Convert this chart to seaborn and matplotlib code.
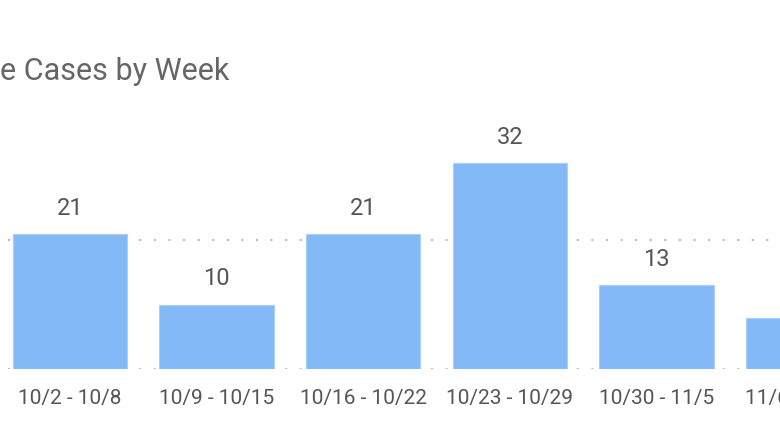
import numpy as np
import pandas as pd
import matplotlib
matplotlib.use("Agg")
import matplotlib.pyplot as plt
import seaborn as sns

# weekly case counts (chart is cropped on both sides)
weeks = ["10/2 - 10/8", "10/9 - 10/15", "10/16 - 10/22",
         "10/23 - 10/29", "10/30 - 11/5", "11/6 - 11/12"]
cases = [21, 10, 21, 32, 13, 8]
title = "e Cases by Week"

bar_color = "#84B9F8"
text_color = "#555555"


def main():
    sns.set_theme(style="white")
    plt.rcParams["font.family"] = ["Roboto", "DejaVu Sans"]

    data = pd.DataFrame({"week": weeks, "cases": cases})

    fig = plt.figure(figsize=(7.8, 4.39), dpi=100)
    W, H = 780, 439
    # axes runs past the right edge so the last bar is cut like the original
    left_px, right_px, bottom_px, top_px = 8, 900, 370, 145
    ax = fig.add_axes([left_px / W, 1 - bottom_px / H,
                       (right_px - left_px) / W, (bottom_px - top_px) / H])

    sns.barplot(data=data, x="week", y="cases", color=bar_color,
                width=0.78, saturation=1, edgecolor="#A9CEFA",
                linewidth=0.8, ax=ax, zorder=3)

    step = 146.6
    ax.set_xlim((left_px - 70) / step, (right_px - 70) / step)
    ax.set_ylim(0, 35)
    ax.set_yticks([0, 20])
    ax.yaxis.grid(True, color="#BBBBBB", linestyle=(0, (1, 6)), linewidth=1.5,
                  zorder=0)
    ax.set_axisbelow(True)
    ax.tick_params(axis="y", left=False, labelleft=False)
    ax.tick_params(axis="x", length=0, pad=14, labelsize=15,
                   labelcolor=text_color)
    ax.set_xlabel("")
    ax.set_ylabel("")
    sns.despine(ax=ax, left=True, bottom=True)

    # the last bar's value label falls outside the cropped picture
    shown = [str(v) for v in cases[:-1]] + [""]
    ax.bar_label(ax.containers[0], labels=shown, padding=11, fontsize=17,
                 color=text_color)

    fig.text(0, 1 - 80 / H, title, fontsize=22, color="#666666",
             ha="left", va="baseline")

    fig.savefig("out.png", dpi=100, facecolor="white")


if __name__ == '__main__':
    main()
